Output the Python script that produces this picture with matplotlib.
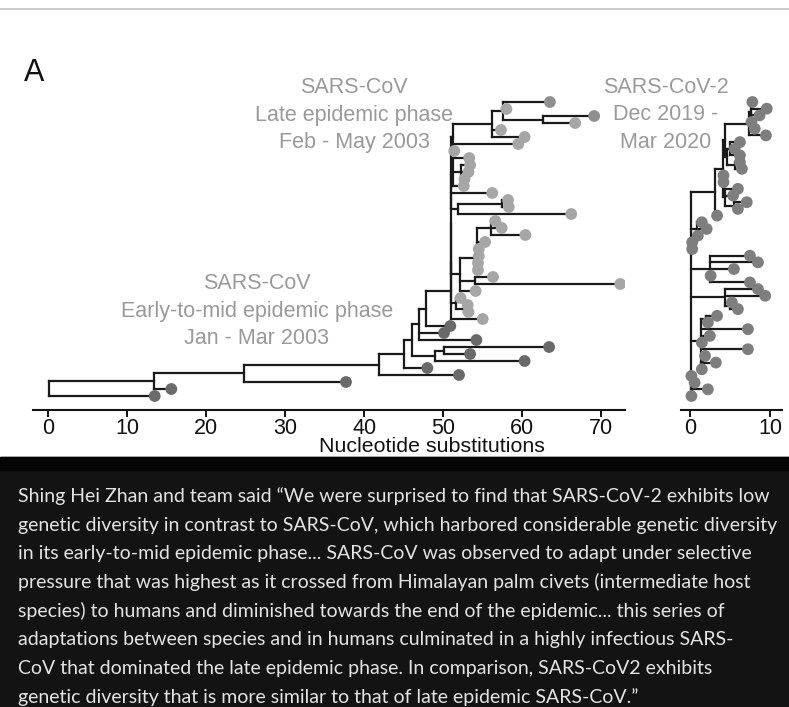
import matplotlib.pyplot as plt
from matplotlib.patches import Rectangle
from matplotlib.lines import Line2D

plt.rcParams['font.family'] = ['Liberation Sans', 'DejaVu Sans']

W, H = 789, 707

# SARS-CoV tree: (node, parent, nucleotide substitutions from root)
left_tree = [
    ("root", None, 0.1), ("A", "root", 13.4), ("B", "A", 24.8), ("C", "B", 41.9),
    ("D", "C", 45.0), ("E", "D", 46.1), ("H", "E", 47.0), ("I", "H", 47.8),
    ("M1", "I", 51.0), ("M2", "M1", 51.0), ("M3", "M2", 51.0), ("M4", "M3", 51.0),
    ("N4", "M4", 51.3), ("N3", "N4", 56.2), ("N2", "N3", 57.6),
    ("t0", "N2", 63.5), ("t1", "N2", 58.0), ("N1", "N2", 62.6),
    ("t2", "N1", 69.1), ("t3", "N1", 66.7),
    ("t4", "N3", 57.3), ("t5", "N3", 60.3), ("t6", "N4", 59.5), ("t7", "N4", 51.4),
    ("P1", "M4", 51.2), ("t8", "P1", 53.3), ("P2", "P1", 52.3),
    ("t9", "P2", 53.4), ("t10", "P2", 53.2), ("t11", "P2", 52.7), ("t12", "P1", 52.6),
    ("t13", "M4", 56.2), ("Q1", "M4", 51.9), ("Q2", "Q1", 57.4),
    ("t14", "Q2", 58.2), ("t15", "Q2", 58.3), ("t16", "Q1", 66.2),
    ("S", "M3", 52.1), ("U1", "S", 54.3), ("U2", "U1", 54.3), ("R2", "U2", 56.0),
    ("t17", "R2", 56.6), ("t18", "R2", 57.4), ("t19", "R2", 60.4),
    ("t20", "U2", 55.3), ("t21", "U2", 54.5), ("t22", "U2", 54.5), ("t23", "U2", 54.4),
    ("t24", "U1", 54.4), ("T", "S", 54.0), ("t25", "T", 56.3), ("t26", "T", 72.4),
    ("t27", "S", 54.1), ("V", "M2", 51.6), ("t28", "V", 52.2), ("V2", "V", 52.6),
    ("t29", "V2", 53.1), ("t30", "V2", 53.2), ("t31", "M1", 55.0),
    ("t32", "I", 50.9), ("t33", "H", 50.1), ("t34", "H", 54.2),
    ("F", "E", 49.0), ("G", "F", 50.1), ("t35", "G", 63.4), ("t36", "G", 53.4),
    ("t37", "F", 60.3), ("t38", "D", 48.0), ("t39", "C", 52.0),
    ("t40", "B", 37.7), ("t41", "A", 15.6), ("t42", "root", 13.5),
]
left_groups = (["mid", "late", "mid"] + ["late"] * 29) + ["early"] * 11

# SARS-CoV-2 tree
right_tree = [
    ("R0", None, 0.15), ("B1", "R0", 3.2), ("B2", "B1", 4.1), ("B3", "B2", 4.4),
    ("T1", "B3", 7.4), ("T1a", "T1", 7.6),
    ("r0", "T1a", 7.8), ("r1", "T1a", 9.6), ("r2", "T1a", 8.7), ("r3", "T1a", 7.7),
    ("r4", "T1", 8.1), ("r5", "T1", 9.5),
    ("B5", "B3", 4.6), ("B5a", "B5", 5.0), ("r6", "B5a", 6.25), ("r7", "B5a", 5.6),
    ("r8", "B5a", 6.25), ("B5b", "B5", 5.6), ("r9", "B5b", 6.25), ("r10", "B5b", 6.5),
    ("r11", "B2", 4.2), ("r12", "B2", 4.2), ("B4", "B2", 4.4),
    ("r13", "B4", 6.0), ("r14", "B4", 5.4), ("B4a", "B4", 5.5),
    ("r15", "B4a", 7.1), ("r16", "B4a", 6.0), ("r17", "B1", 3.4),
    ("C1", "R0", 0.9), ("r18", "C1", 1.5), ("r19", "C1", 2.1), ("r20", "C1", 1.0),
    ("r21", "R0", 0.3), ("r22", "R0", 0.3),
    ("D1", "R0", 2.5), ("r23", "D1", 7.5), ("r24", "D1", 8.5), ("r25", "D1", 5.5),
    ("r26", "D1", 2.6), ("r27", "D1", 7.5),
    ("E1", "R0", 4.4), ("r28", "E1", 8.5), ("r29", "E1", 9.4), ("E1a", "E1", 5.0),
    ("r30", "E1a", 5.25), ("r31", "E1a", 6.0),
    ("F1", "R0", 1.4), ("F2", "F1", 2.0), ("r32", "F2", 3.4), ("r33", "F2", 2.25),
    ("r34", "F1", 7.25), ("r35", "F1", 2.5), ("r36", "F1", 1.5), ("r37", "F1", 7.25),
    ("F3", "F1", 1.6), ("r38", "F3", 1.9), ("r39", "F3", 3.25), ("r40", "F3", 1.5),
    ("r41", "R0", 0.2), ("G2", "R0", 0.3), ("r42", "G2", 0.6), ("r43", "G2", 2.25),
    ("r44", "G2", 0.2),
]
right_groups = ["cov2"] * 45

left_ticks = [0, 10, 20, 30, 40, 50, 60, 70]
right_ticks = [0, 10]

tip_colors = {"early": "#6a6a6a", "late": "#a6a6a6", "mid": "#8f8f8f", "cov2": "#7e7e7e"}
branch_col = "#1a1a1a"
label_col = "#9a9a9a"

late_label = ["SARS-CoV", "Late epidemic phase", "Feb - May 2003"]
early_label = ["SARS-CoV", "Early-to-mid epidemic phase", "Jan - Mar 2003"]
cov2_label = ["SARS-CoV-2", "Dec 2019 -", "Mar 2020"]

quote_lines = [
    "Shing Hei Zhan and team said \u201cWe were surprised to find that SARS-CoV-2 exhibits low",
    "genetic diversity in contrast to SARS-CoV, which harbored considerable genetic diversity",
    "in its early-to-mid epidemic phase... SARS-CoV was observed to adapt under selective",
    "pressure that was highest as it crossed from Himalayan palm civets (intermediate host",
    "species) to humans and diminished towards the end of the epidemic... this series of",
    "adaptations between species and in humans culminated in a highly infectious SARS-",
    "CoV that dominated the late epidemic phase. In comparison, SARS-CoV2 exhibits",
    "genetic diversity that is more similar to that of late epidemic SARS-CoV.\u201d",
]


def layout(tree):
    parent = {n: p for n, p, _ in tree}
    xpos = {n: x for n, _, x in tree}
    children = {n: [] for n, _, _ in tree}
    root = None
    for n, p, _ in tree:
        if p is None:
            root = n
        else:
            children[p].append(n)
    tips = []

    def walk(n):
        if not children[n]:
            tips.append(n)
        for c in children[n]:
            walk(c)

    walk(root)
    ypos = {t: i for i, t in enumerate(tips)}

    def sety(n):
        if children[n]:
            for c in children[n]:
                sety(c)
            ypos[n] = (ypos[children[n][0]] + ypos[children[n][-1]]) / 2

    sety(root)
    return parent, xpos, ypos, children, tips


def draw_tree(ax, tree, groups):
    parent, xpos, ypos, children, tips = layout(tree)
    for n in xpos:
        if children[n]:
            ys = [ypos[c] for c in children[n]]
            ax.plot([xpos[n], xpos[n]], [min(ys), max(ys)], color=branch_col, lw=1.6,
                    solid_capstyle='projecting')
        if parent[n] is not None:
            ax.plot([xpos[parent[n]], xpos[n]], [ypos[n], ypos[n]], color=branch_col, lw=1.6,
                    solid_capstyle='projecting')
    ax.scatter([xpos[t] for t in tips], [ypos[t] for t in tips], s=72,
               c=[tip_colors[g] for g in groups], linewidths=0, zorder=3)
    return len(tips)


def px_axes(x0, x1, y0, y1):
    return fig.add_axes([x0 / W, 1 - y1 / H, (x1 - x0) / W, (y1 - y0) / H])


def style(ax, ntips, xlim, ticks):
    # tips span rows 102..396 px, axes spans 92..410 px
    s = 294 / (ntips - 1)
    ax.set_ylim(ntips - 1 + 14 / s, -10 / s)
    ax.set_xlim(*xlim)
    ax.set_xticks(ticks)
    ax.set_yticks([])
    for side in ['left', 'right', 'top']:
        ax.spines[side].set_visible(False)
    ax.spines['bottom'].set_linewidth(1.5)
    ax.spines['bottom'].set_color('#111111')
    ax.tick_params(axis='x', labelsize=15.5, length=5, width=1.4, pad=0.5, colors='#111111')
    ax.patch.set_alpha(0)


fig = plt.figure(figsize=(W / 100, H / 100), dpi=100)

ax1 = px_axes(33, 625, 92, 410)
n1 = draw_tree(ax1, left_tree, left_groups)
style(ax1, n1, (-1.9, 73.0), left_ticks)

ax2 = px_axes(681, 782, 92, 410)
n2 = draw_tree(ax2, right_tree, right_groups)
style(ax2, n2, (-1.1, 11.5), right_ticks)

fig.text(432 / W, 1 - 447 / H, "Nucleotide substitutions", ha='center', va='center',
         fontsize=15.4, color='#111111')

fig.text(24 / W, 1 - 81 / H, "A", fontsize=22, color='#111111', ha='left', va='baseline')

for i, line in enumerate(late_label):
    fig.text(354 / W, 1 - (93 + 27.5 * i) / H, line, ha='center', va='baseline',
             fontsize=15.5, color=label_col)
for i, line in enumerate(early_label):
    fig.text(257 / W, 1 - (289 + 27.5 * i) / H, line, ha='center', va='baseline',
             fontsize=15.5, color=label_col)
for i, line in enumerate(cov2_label):
    fig.text(666 / W, 1 - (93 + 27.5 * i) / H, line, ha='center', va='baseline',
             fontsize=15.5, color=label_col)

# top separator line and dark caption box
fig.add_artist(Line2D([0, 1], [1 - 9 / H] * 2, color='#c4c4c4', lw=1.2))
fig.add_artist(Rectangle((0, 0), 1, 1 - 457 / H, transform=fig.transFigure,
                         color='#131313', zorder=0))
fig.add_artist(Rectangle((0, 1 - 470 / H), 1, 13 / H, transform=fig.transFigure,
                         color='#050505', zorder=0))

for i, line in enumerate(quote_lines):
    fig.text(18 / W, 1 - (502 + 28.7 * i) / H, line, ha='left', va='baseline',
             fontsize=14.0, color='#e4e4e4', family=['Lato', 'DejaVu Sans'])

fig.savefig('out.png', dpi=100)
